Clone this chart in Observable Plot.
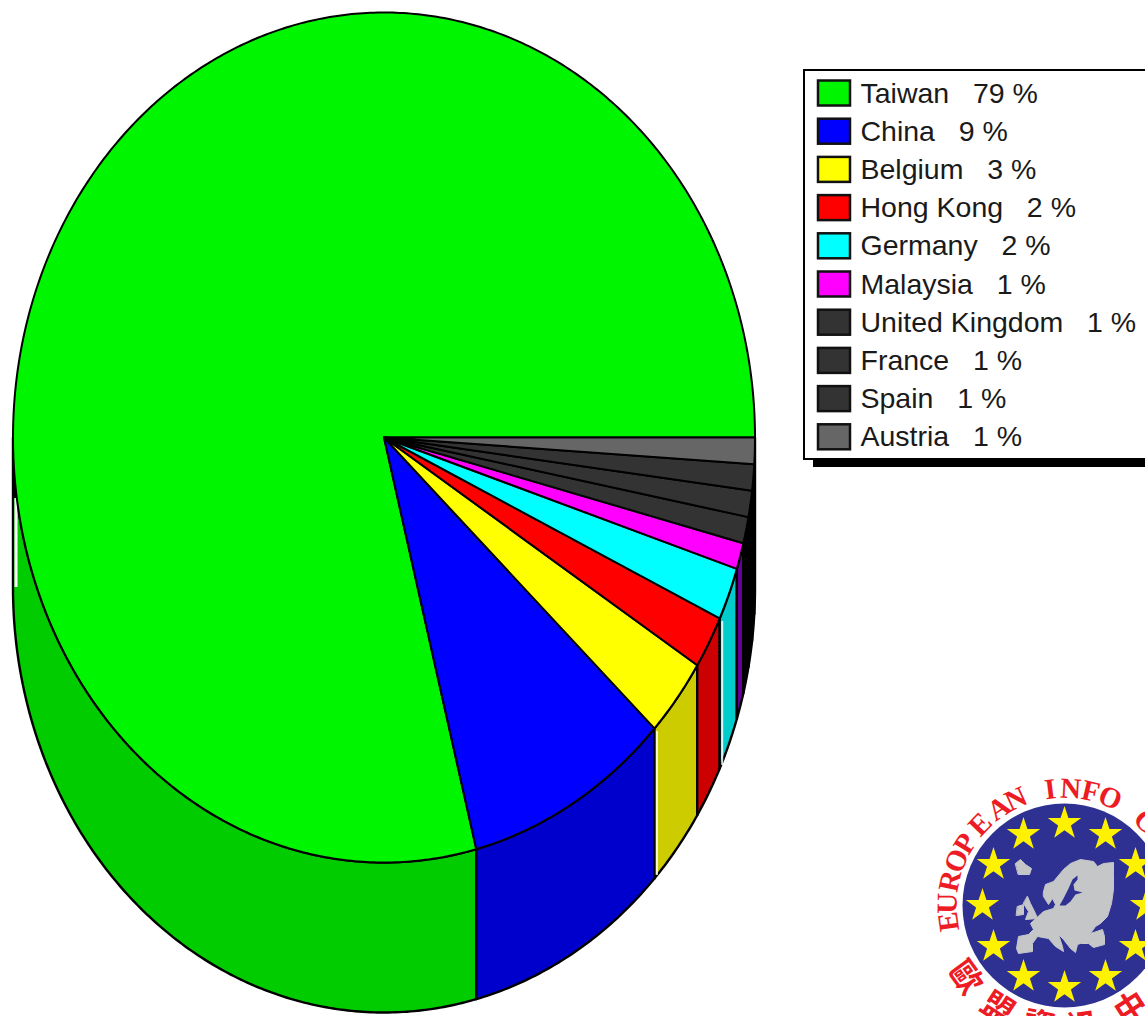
<!DOCTYPE html>
<html><head><meta charset="utf-8">
<style>html,body{margin:0;padding:0;background:#fff;overflow:hidden}svg{display:block}</style>
<script src="https://cdn.jsdelivr.net/npm/d3@7"></script>
<script src="https://cdn.jsdelivr.net/npm/@observablehq/plot@0.6"></script>
</head><body><div id="chart"></div>
<script>
const countries = ["Taiwan","China","Belgium","Hong Kong","Germany","Malaysia","United Kingdom","France","Spain","Austria"];
const shares    = [79,9,3,2,2,1,1,1,1,1];
const topColors = ["#00f500","#0000ff","#ffff00","#ff0000","#00ffff","#ff00ff","#333333","#333333","#333333","#666666"];
const sideColors= ["#00cc00","#0000cc","#cccc00","#cc0000","#00cccc","#660099","#000000","#000000","#000000","#000000"];

// logo content
const logoStarHours = [0,1,2,3,4,5,6,7,8,9,10,11];
const logoLetters = ["E","U","R","O","P","E","A","N","I","N","F","O","C"];
const logoLetterAngles = [-98,-89,-78,-67.5,-58,-46,-34,-24.5,-7,3,13,23,44];
const logoHanzi = ["歐","盟","資","訊","中"];
const logoHanziAngles = [-126,-147,-168,172,147];
const iceland = [[1015,863],[1020,859],[1025,864],[1031,868],[1029,874],[1018,874]];
const ireland = [[1017,906],[1023,904],[1023,914],[1016,915]];
const britain = [[1027,896],[1030,903],[1035,913],[1037,918],[1025,919],[1028,911],[1023,903]];
const mainland = [[1043,891],[1045,884],[1053,881],[1063,869],[1070,863],[1080,859],[1093,861],[1097,866],[1103,863],[1113,862],[1113,873],[1113,889],[1111,903],[1107,916],[1100,923],[1095,926],[1090,933],[1102,929],[1104,936],[1104,944],[1093,947],[1088,943],[1080,943],[1077,944],[1075,952],[1070,948],[1063,939],[1058,934],[1062,946],[1063,951],[1055,946],[1048,938],[1037,936],[1032,943],[1032,951],[1018,953],[1016,948],[1018,936],[1028,934],[1033,929],[1030,923],[1043,911],[1053,908],[1055,904],[1052,898],[1048,904],[1043,896]];
const baltic = [[1077,875],[1072,879],[1068,888],[1063,898],[1059,905],[1065,905],[1070,901],[1075,894],[1082,892],[1074,890],[1073,884],[1077,879]];

const toRad = d3.scaleLinear().domain([0,100]).range([0,2*Math.PI]);
const cx=383.5, cy=437, rx=371, ry=425, depth=150;
const px=t=>cx+rx*Math.cos(t), py=t=>cy-ry*Math.sin(t);
const arc=(a,b)=>{const n=Math.max(2,Math.ceil((b-a)/0.01));return d3.range(n+1).map(i=>a+(b-a)*i/n);};

let cum=0;
const slices=countries.map((name,i)=>{const a=toRad(cum);cum+=shares[i];return {name,i,a,b:toRad(cum),top:topColors[i],side:sideColors[i]};});
const topPts=[], sidePts=[];
for(const s of slices){
  topPts.push({k:s.name,x:cx,y:cy,c:s.top});
  for(const t of arc(s.a,s.b)) topPts.push({k:s.name,x:px(t),y:py(t),c:s.top});
  const a=Math.max(s.a,Math.PI), b=s.b;
  if(b>a){
    const ts=arc(a,b);
    for(const t of ts) sidePts.push({k:s.name,x:px(t),y:py(t),c:s.side});
    for(const t of ts.slice().reverse()) sidePts.push({k:s.name,x:px(t),y:py(t)+depth,c:s.side});
  }
}
const edge=n=>slices.find(s=>s.name===n).a;
const whiteEdges=["Belgium","Germany"].map(n=>{const t=edge(n);return {x:px(t)+2.5,y1:py(t)+3,y2:py(t)+depth-3};});
const leftGlitch=[{x:px(Math.PI)+3,y1:cy+61,y2:cy+150}];
const leftDark=[{x:px(Math.PI)+2,y1:cy+33,y2:cy+61}];

const swatchY=i=>93+i*38.2;
const legend=countries.map((name,i)=>({label:`${name}   ${shares[i]} %`,y:swatchY(i),c:topColors[i]}));

const lcx=1064,lcy=905;
const stars=logoStarHours.map(h=>{const t=h*Math.PI/6;return {x:lcx+82*Math.sin(t),y:lcy-82*Math.cos(t)};});
const polar=(deg,r)=>{const t=deg*Math.PI/180;return {x:lcx+r*Math.sin(t),y:lcy-r*Math.cos(t)};};
const letters=logoLetters.map((l,i)=>({l,rot:logoLetterAngles[i],...polar(logoLetterAngles[i],117)}));
const hanzi=logoHanzi.map((l,i)=>({l,rot:logoHanziAngles[i]+(logoHanziAngles[i]<0?180:-180),...polar(logoHanziAngles[i],123)}));
const shape=(k,a,c)=>a.map(([x,y])=>({k,x,y,c}));
const land=[...shape("ice",iceland),...shape("ire",ireland),...shape("gb",britain),...shape("main",mainland)];

const chart=Plot.plot({
  width:1145,height:1016,margin:0,
  style:{background:"#fff",fontFamily:"Liberation Sans"},
  x:{domain:[0,1145],range:[0,1145],axis:null},
  y:{domain:[0,1016],range:[0,1016],axis:null},
  color:{type:"identity"},
  marks:[
    Plot.line(sidePts,{x:"x",y:"y",z:"k",fill:"c",stroke:"#000",strokeWidth:2.4,curve:"linear-closed"}),
    Plot.ruleX(whiteEdges,{x:"x",y1:"y1",y2:"y2",stroke:"#fff",strokeWidth:2,strokeOpacity:0.85}),
    Plot.ruleX(leftGlitch,{x:"x",y1:"y1",y2:"y2",stroke:"#fff",strokeWidth:3}),
    Plot.ruleX(leftDark,{x:"x",y1:"y1",y2:"y2",stroke:"#000",strokeWidth:4}),
    Plot.line(topPts,{x:"x",y:"y",z:"k",fill:"c",stroke:"#000",strokeWidth:2,curve:"linear-closed"}),
    // legend
    Plot.rect([{}],{x1:()=>813,x2:()=>1160,y1:()=>80,y2:()=>467,fill:"#000"}),
    Plot.rect([{}],{x1:()=>804,x2:()=>1160,y1:()=>70,y2:()=>459,fill:"#fff",stroke:"#000",strokeWidth:2}),
    Plot.rect(legend,{x1:()=>818,x2:()=>850,y1:d=>d.y-12.5,y2:d=>d.y+12.5,fill:"c",stroke:"#111",strokeWidth:2.5}),
    Plot.text(legend,{x:()=>860,y:"y",text:"label",textAnchor:"start",fontSize:28.5,fill:"#1a1a1a",fontFamily:"Liberation Sans"}),
    // logo
    Plot.dot([{x:lcx,y:lcy}],{x:"x",y:"y",r:102,fill:"#2e3192"}),
    Plot.dot(stars,{x:"x",y:"y",symbol:"star",r:10.5,fill:"#fff200"}),
    Plot.line(land,{x:"x",y:"y",z:"k",fill:"#c4c6c8",stroke:"#c4c6c8",strokeWidth:1,curve:"linear-closed"}),
    Plot.line(shape("baltic",baltic),{x:"x",y:"y",z:"k",fill:"#2e3192",curve:"linear-closed"}),
    Plot.text(letters,{x:"x",y:"y",text:"l",rotate:"rot",fontSize:29,fontWeight:"bold",fontFamily:"Liberation Serif",fill:"#ed1c24"}),
    Plot.text(hanzi,{x:"x",y:"y",text:"l",rotate:"rot",fontSize:32,fontWeight:"bold",fontFamily:"Noto Sans CJK TC",fill:"#ed1c24"})
  ]
});
document.getElementById("chart").append(chart);
</script></body></html>
